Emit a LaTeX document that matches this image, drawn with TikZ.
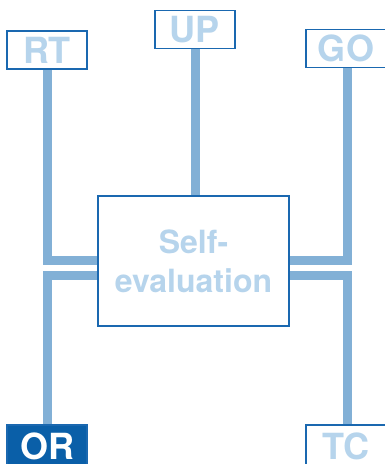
\documentclass[tikz,border=0pt]{standalone}
\usepackage{fontspec}
\setmainfont{TeX Gyre Heros}
\definecolor{boxline}{HTML}{1A68B0}
\definecolor{stem}{HTML}{82B0D6}
\definecolor{lighttext}{HTML}{B6D4EC}
\definecolor{darkfill}{HTML}{0A5FA8}
\begin{document}
\begin{tikzpicture}[x=1pt,y=-1pt,
  lab/.style={draw=boxline,line width=1.5pt,fill=white,inner sep=0pt,
    minimum width=80pt,minimum height=38pt,text=lighttext,
    font=\fontsize{36}{38}\selectfont\bfseries},
  botlab/.style={lab,minimum height=42pt},
  darklab/.style={botlab,fill=darkfill,text=white},
  central/.style={draw=boxline,line width=1.5pt,fill=white,inner sep=0pt,
    minimum width=191pt,minimum height=130pt,text=lighttext,align=center,
    font=\fontsize{32}{39}\selectfont\bfseries},
  link/.style={stem,line width=9pt,line join=miter}]
\useasboundingbox (0,0) rectangle (385,464);
% coordinates for bar ends under the central box
\coordinate (lu) at (150,260);
\coordinate (ll) at (150,275);
\coordinate (ru) at (240,260);
\coordinate (rl) at (240,275);
\coordinate (cu) at (195,220);
% stems (drawn first, boxes on top)
\coordinate (rtb) at (47,69);
\coordinate (upb) at (195,49);
\coordinate (gob) at (347,68);
\coordinate (ort) at (47,425);
\coordinate (tct) at (347,425);
\draw[link] (rtb) |- (lu);
\draw[link] (ort) |- (ll);
\draw[link] (gob) |- (ru);
\draw[link] (tct) |- (rl);
\draw[link] (upb) -- (cu);
% boxes
\node[central] (self) at (193.5,261) {Self-\\evaluation};
\node[lab] (RT) at (47,50) {RT};
\node[lab] (UP) at (195,29.5) {UP};
\node[lab] (GO) at (346,48.5) {GO};
\node[darklab] (OR) at (47,446) {OR};
\node[botlab] (TC) at (346,446) {TC};
\end{tikzpicture}
\end{document}
